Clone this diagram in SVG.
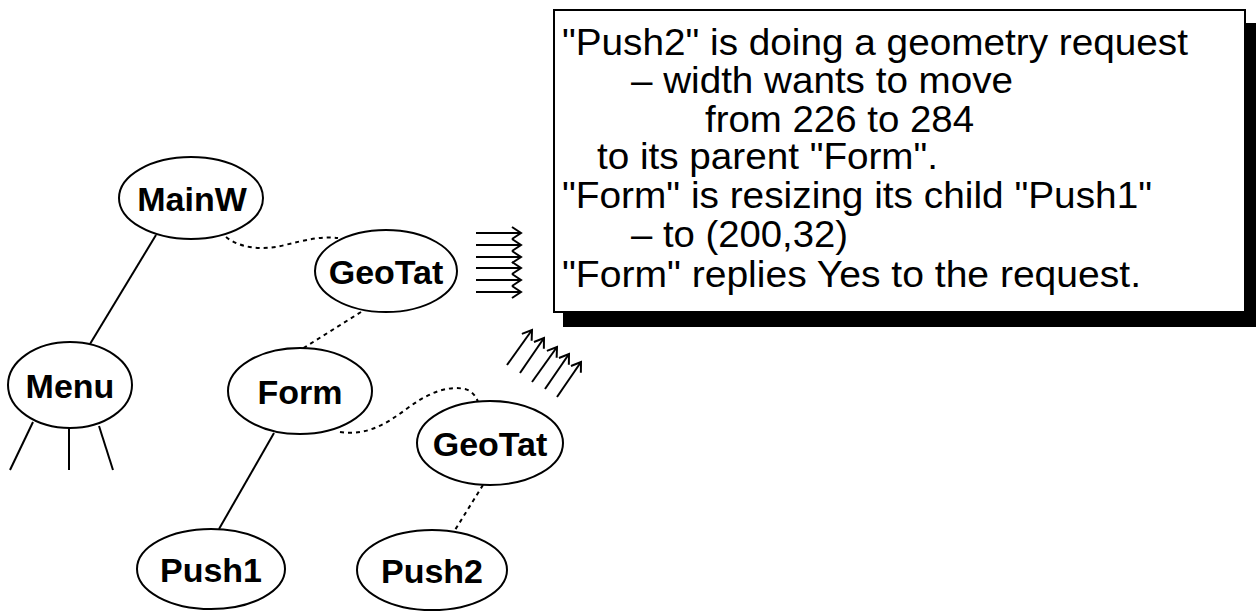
<svg xmlns="http://www.w3.org/2000/svg" width="1256" height="611" viewBox="0 0 1256 611">
  <style>
    .node ellipse { fill: #fff; stroke: #000; stroke-width: 2; }
    .node text { font-family: "Liberation Sans", Arial, sans-serif; font-weight: bold; font-size: 34px; text-anchor: middle; fill: #000; }
    .tree { stroke: #000; stroke-width: 2; fill: none; }
    .geo { stroke: #000; stroke-width: 2; fill: none; stroke-dasharray: 4 4; }
    .flow { stroke: #000; stroke-width: 2; fill: none; marker-end: url(#stick); }
    .note { font-family: "Liberation Sans", Arial, sans-serif; font-size: 37px; fill: #000; }
  </style>
  <defs>
    <marker id="stick" markerUnits="userSpaceOnUse" markerWidth="14" markerHeight="16" refX="10" refY="7" orient="auto">
      <path d="M1,1 L10,7 L1,13" fill="none" stroke="#000" stroke-width="2"/>
    </marker>
  </defs>

  <!-- widget tree edges and geometry-tattler links -->
  <g id="connectors">
    <line class="tree" x1="156" y1="235" x2="90" y2="344"/>
    <line class="tree" x1="33" y1="422" x2="10" y2="470"/>
    <line class="tree" x1="69" y1="428" x2="69" y2="470"/>
    <line class="tree" x1="99" y1="426" x2="113" y2="470"/>
    <line class="tree" x1="274" y1="433" x2="219" y2="529"/>
    <path class="geo" d="M226,237 C240,248 262,251 285,245 C305,240 322,236 338,238"/>
    <line class="geo" x1="361" y1="312" x2="302" y2="349"/>
    <path class="geo" d="M340,432 C365,436 385,425 405,410 C425,395 445,385 465,389 C472,391 476,396 478,402"/>
    <line class="geo" x1="483" y1="485" x2="455" y2="530"/>
  </g>

  <!-- requests flowing into the note -->
  <g id="request-arrows">
    <line class="flow" x1="476" y1="233" x2="521" y2="233"/>
    <line class="flow" x1="476" y1="245" x2="521" y2="245"/>
    <line class="flow" x1="476" y1="257" x2="521" y2="257"/>
    <line class="flow" x1="476" y1="268" x2="521" y2="268"/>
    <line class="flow" x1="476" y1="280" x2="521" y2="280"/>
    <line class="flow" x1="476" y1="292" x2="521" y2="292"/>
  </g>
  <g id="reply-arrows">
    <line class="flow" x1="507" y1="365" x2="532" y2="330"/>
    <line class="flow" x1="520" y1="373" x2="544" y2="338"/>
    <line class="flow" x1="532" y1="382" x2="557" y2="347"/>
    <line class="flow" x1="545" y1="389" x2="569" y2="354"/>
    <line class="flow" x1="557" y1="397" x2="581" y2="362"/>
  </g>

  <g id="MainW" class="node">
    <ellipse cx="191" cy="198" rx="72" ry="41"/>
    <text x="192" y="211">MainW</text>
  </g>
  <g id="GeoTat1" class="node">
    <ellipse cx="386" cy="271" rx="71" ry="41"/>
    <text x="386" y="284">GeoTat</text>
  </g>
  <g id="Menu" class="node">
    <ellipse cx="70" cy="385" rx="62" ry="43"/>
    <text x="70" y="398">Menu</text>
  </g>
  <g id="Form" class="node">
    <ellipse cx="300" cy="391" rx="72" ry="43"/>
    <text x="300" y="404">Form</text>
  </g>
  <g id="GeoTat2" class="node">
    <ellipse cx="490" cy="443" rx="73" ry="42"/>
    <text x="490" y="456">GeoTat</text>
  </g>
  <g id="Push1" class="node">
    <ellipse cx="211" cy="569" rx="74" ry="40"/>
    <text x="211" y="582">Push1</text>
  </g>
  <g id="Push2" class="node">
    <ellipse cx="432" cy="570" rx="75" ry="40"/>
    <text x="432" y="583">Push2</text>
  </g>

  <!-- explanation note with drop shadow -->
  <g id="note">
    <rect x="563" y="23" width="700" height="304" fill="#000"/>
    <rect x="554" y="10" width="691" height="302" fill="#fff" stroke="#000" stroke-width="2"/>
    <text class="note" x="562" y="55" textLength="626" lengthAdjust="spacingAndGlyphs">"Push2" is doing a geometry request</text>
    <text class="note" x="631" y="93" textLength="382" lengthAdjust="spacingAndGlyphs">– width wants to move</text>
    <text class="note" x="705" y="132" textLength="269" lengthAdjust="spacingAndGlyphs">from 226 to 284</text>
    <text class="note" x="597" y="169" textLength="341" lengthAdjust="spacingAndGlyphs">to its parent "Form".</text>
    <text class="note" x="562" y="208" textLength="590" lengthAdjust="spacingAndGlyphs">"Form" is resizing its child "Push1"</text>
    <text class="note" x="631" y="247" textLength="217" lengthAdjust="spacingAndGlyphs">– to (200,32)</text>
    <text class="note" x="562" y="287" textLength="579" lengthAdjust="spacingAndGlyphs">"Form" replies Yes to the request.</text>
  </g>
</svg>
